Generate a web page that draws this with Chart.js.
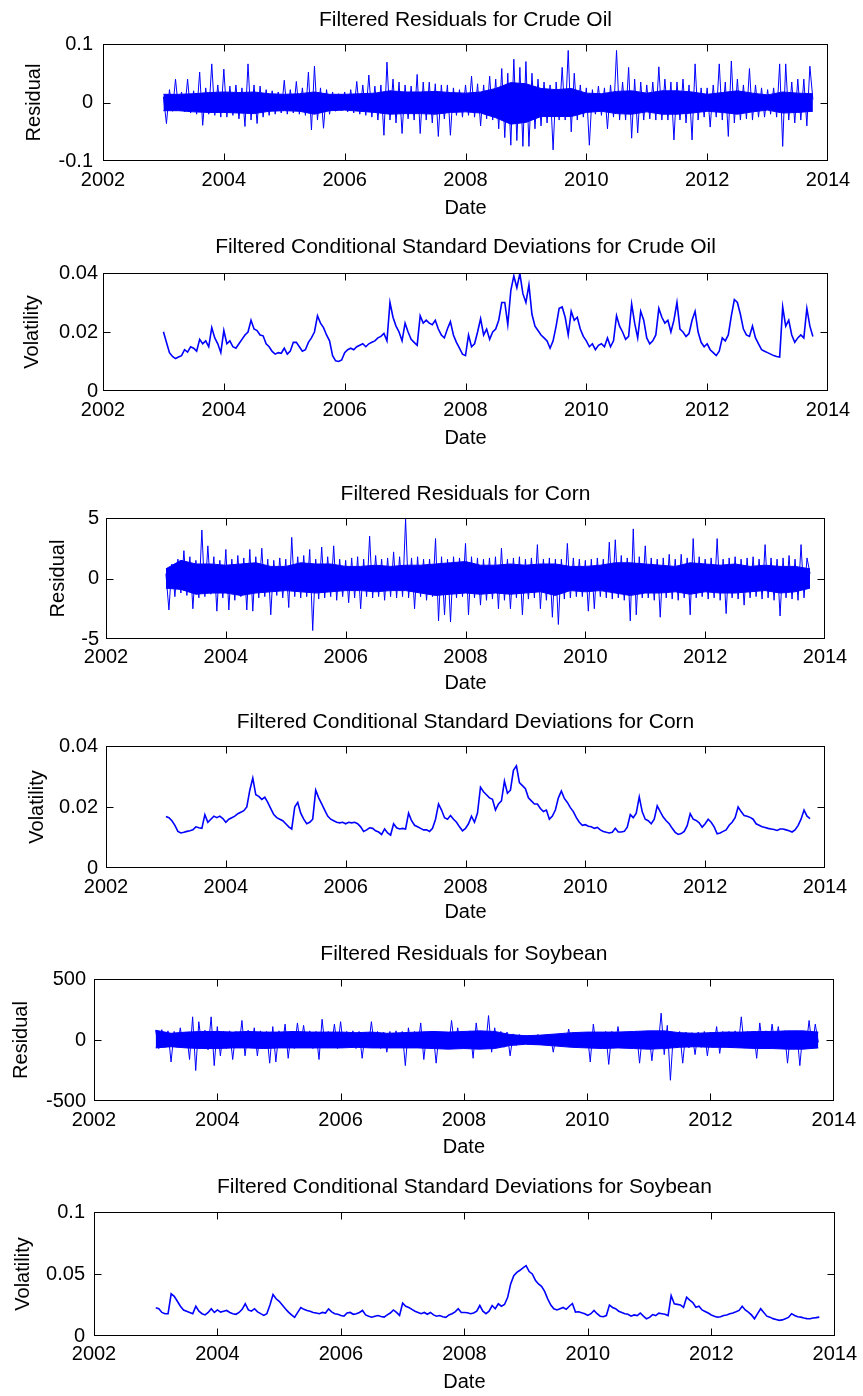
<!DOCTYPE html>
<html>
<head>
<meta charset="utf-8">
<script src="https://cdn.jsdelivr.net/npm/chart.js@4.4.1/dist/chart.umd.min.js"></script>
<style>
  html, body { margin: 0; padding: 0; background: #ffffff; }
  body { width: 863px; height: 1396px; position: relative; overflow: hidden; }
  canvas { position: absolute; left: 0; }
</style>
</head>
<body>
<canvas id="c1"></canvas>
<canvas id="c2"></canvas>
<canvas id="c3"></canvas>
<canvas id="c4"></canvas>
<canvas id="c5"></canvas>
<canvas id="c6"></canvas>
<script>
// ---------------- DATA ----------------
const titles = [
  "Filtered Residuals for Crude Oil",
  "Filtered Conditional Standard Deviations for Crude Oil",
  "Filtered Residuals for Corn",
  "Filtered Conditional Standard Deviations for Corn",
  "Filtered Residuals for Soybean",
  "Filtered Conditional Standard Deviations for Soybean"
];
const yLabels = ["Residual", "Volatility", "Residual", "Volatility", "Residual", "Volatility"];
const xLabel = "Date";
const xTicks = [2002, 2004, 2006, 2008, 2010, 2012, 2014];
const xTickLabels = ["2002", "2004", "2006", "2008", "2010", "2012", "2014"];
const yTicks1 = [-0.1, 0, 0.1];     const yTickLabels1 = ["-0.1", "0", "0.1"];
const yTicks2 = [0, 0.02, 0.04];    const yTickLabels2 = ["0", "0.02", "0.04"];
const yTicks3 = [-5, 0, 5];         const yTickLabels3 = ["-5", "0", "5"];
const yTicks4 = [0, 0.02, 0.04];    const yTickLabels4 = ["0", "0.02", "0.04"];
const yTicks5 = [-500, 0, 500];     const yTickLabels5 = ["-500", "0", "500"];
const yTicks6 = [0, 0.05, 0.1];     const yTickLabels6 = ["0", "0.05", "0.1"];

const dates = [
2003,2003.05,2003.1,2003.15,2003.2,2003.25,2003.3,2003.35,2003.4,2003.45,2003.5,2003.55,2003.6,2003.65,2003.7,2003.75,2003.8,2003.85,2003.9,2003.95,
2004,2004.05,2004.1,2004.15,2004.2,2004.25,2004.3,2004.35,2004.4,2004.45,2004.5,2004.55,2004.6,2004.65,2004.7,2004.75,2004.8,2004.85,2004.9,2004.95,
2005,2005.05,2005.1,2005.15,2005.2,2005.25,2005.3,2005.35,2005.4,2005.45,2005.5,2005.55,2005.6,2005.65,2005.7,2005.75,2005.8,2005.85,2005.9,2005.95,
2006,2006.05,2006.1,2006.15,2006.2,2006.25,2006.3,2006.35,2006.4,2006.45,2006.5,2006.55,2006.6,2006.65,2006.7,2006.75,2006.8,2006.85,2006.9,2006.95,
2007,2007.05,2007.1,2007.15,2007.2,2007.25,2007.3,2007.35,2007.4,2007.45,2007.5,2007.55,2007.6,2007.65,2007.7,2007.75,2007.8,2007.85,2007.9,2007.95,
2008,2008.05,2008.1,2008.15,2008.2,2008.25,2008.3,2008.35,2008.4,2008.45,2008.5,2008.55,2008.6,2008.65,2008.7,2008.75,2008.8,2008.85,2008.9,2008.95,
2009,2009.05,2009.1,2009.15,2009.2,2009.25,2009.3,2009.35,2009.4,2009.45,2009.5,2009.55,2009.6,2009.65,2009.7,2009.75,2009.8,2009.85,2009.9,2009.95,
2010,2010.05,2010.1,2010.15,2010.2,2010.25,2010.3,2010.35,2010.4,2010.45,2010.5,2010.55,2010.6,2010.65,2010.7,2010.75,2010.8,2010.85,2010.9,2010.95,
2011,2011.05,2011.1,2011.15,2011.2,2011.25,2011.3,2011.35,2011.4,2011.45,2011.5,2011.55,2011.6,2011.65,2011.7,2011.75,2011.8,2011.85,2011.9,2011.95,
2012,2012.05,2012.1,2012.15,2012.2,2012.25,2012.3,2012.35,2012.4,2012.45,2012.5,2012.55,2012.6,2012.65,2012.7,2012.75,2012.8,2012.85,2012.9,2012.95,
2013,2013.05,2013.1,2013.15,2013.2,2013.25,2013.3,2013.35,2013.4,2013.45,2013.5,2013.55,2013.6,2013.65,2013.7,2013.75
];

// quarterly dates for the dense core band of the residual series
const coreDates = [
2003,2003.25,2003.5,2003.75, 2004,2004.25,2004.5,2004.75, 2005,2005.25,2005.5,2005.75,
2006,2006.25,2006.5,2006.75, 2007,2007.25,2007.5,2007.75, 2008,2008.25,2008.5,2008.75,
2009,2009.25,2009.5,2009.75, 2010,2010.25,2010.5,2010.75, 2011,2011.25,2011.5,2011.75,
2012,2012.25,2012.5,2012.75, 2013,2013.25,2013.5,2013.75
];

const crudeResidual = [
0.010,-0.036,0.022,-0.015,0.040,-0.012,0.018,-0.016,0.040,-0.018,0.020,-0.020,0.052,-0.039,0.025,-0.020,0.066,-0.022,0.030,-0.025,
0.057,-0.025,0.028,-0.022,0.030,-0.028,0.025,-0.041,0.066,-0.030,0.030,-0.036,0.028,-0.025,0.022,-0.022,0.020,-0.020,0.018,-0.018,
0.038,-0.020,0.022,-0.018,0.036,-0.020,0.025,-0.022,0.052,-0.047,0.062,-0.030,0.025,-0.044,0.022,-0.020,0.018,-0.015,0.015,-0.014,
0.018,-0.016,0.022,-0.018,0.036,-0.020,0.030,-0.022,0.047,-0.025,0.028,-0.030,0.030,-0.056,0.069,-0.030,0.040,-0.035,0.035,-0.053,
0.030,-0.028,0.028,-0.030,0.048,-0.053,0.035,-0.030,0.035,-0.035,0.032,-0.058,0.030,-0.028,0.030,-0.056,0.025,-0.022,0.022,-0.025,
0.030,-0.022,0.045,-0.025,0.032,-0.040,0.030,-0.028,0.045,-0.030,0.040,-0.045,0.058,-0.060,0.050,-0.073,0.074,-0.065,0.060,-0.075,
0.070,-0.075,0.050,-0.045,0.040,-0.040,0.035,-0.035,0.030,-0.081,0.035,-0.030,0.060,-0.030,0.089,-0.050,0.050,-0.030,0.030,-0.025,
0.025,-0.073,0.022,-0.020,0.028,-0.022,0.025,-0.045,0.030,-0.025,0.089,-0.030,0.035,-0.030,0.060,-0.061,0.040,-0.052,0.035,-0.030,
0.030,-0.028,0.035,-0.030,0.061,-0.030,0.040,-0.030,0.035,-0.064,0.035,-0.030,0.040,-0.035,0.030,-0.064,0.066,-0.030,0.025,-0.025,
0.025,-0.042,0.030,-0.025,0.066,-0.030,0.035,-0.058,0.071,-0.035,0.040,-0.030,0.030,-0.028,0.058,-0.030,0.030,-0.025,0.025,-0.025,
0.022,-0.020,0.025,-0.025,0.066,-0.075,0.066,-0.030,0.035,-0.035,0.040,-0.030,0.040,-0.040,0.062,0.005
];
const crudeCoreUpper = [
.014,.014,.015,.017, .018,.017,.018,.015, .014,.015,.018,.014, .014,.015,.016,.020, .018,.018,.019,.017, .016,.018,.024,.034,
.032,.024,.022,.024, .016,.015,.019,.020, .016,.020,.020,.018, .014,.017,.020,.016, .013,.018,.016,.015
];
const crudeCoreLower = [
-.014,-.014,-.016,-.017, -.017,-.018,-.019,-.015, -.014,-.015,-.020,-.014, -.013,-.015,-.017,-.020, -.019,-.019,-.020,-.017, -.016,-.018,-.026,-.037,
-.034,-.024,-.024,-.024, -.017,-.015,-.019,-.020, -.016,-.020,-.020,-.018, -.015,-.017,-.020,-.016, -.013,-.018,-.017,-.015
];

const crudeVolatility = [
.0201,.0165,.0130,.0117,.0110,.0115,.0120,.0140,.0132,.0150,.0145,.0135,.0175,.0160,.0170,.0150,.0215,.0180,.0160,.0130,
.0205,.0160,.0170,.0150,.0145,.0160,.0175,.0190,.0200,.0240,.0210,.0205,.0190,.0187,.0160,.0150,.0134,.0125,.0130,.0128,
.0145,.0125,.0135,.0165,.0165,.0150,.0135,.0140,.0165,.0180,.0200,.0255,.0230,.0215,.0190,.0170,.0120,.0102,.0100,.0105,
.0130,.0140,.0145,.0140,.0150,.0155,.0160,.0150,.0160,.0165,.0170,.0180,.0185,.0195,.0170,.0300,.0250,.0220,.0200,.0170,
.0230,.0200,.0175,.0165,.0155,.0255,.0230,.0240,.0230,.0225,.0240,.0210,.0190,.0180,.0210,.0235,.0190,.0165,.0145,.0125,
.0120,.0190,.0150,.0160,.0200,.0245,.0190,.0210,.0175,.0200,.0210,.0240,.0300,.0300,.0225,.0340,.0390,.0350,.0398,.0330,
.0300,.0360,.0260,.0220,.0205,.0190,.0180,.0170,.0145,.0170,.0220,.0280,.0285,.0250,.0190,.0270,.0240,.0250,.0210,.0185,
.0170,.0150,.0160,.0140,.0155,.0160,.0150,.0180,.0150,.0170,.0255,.0220,.0200,.0175,.0185,.0295,.0230,.0180,.0270,.0240,
.0180,.0160,.0170,.0190,.0280,.0250,.0230,.0240,.0200,.0240,.0300,.0210,.0200,.0185,.0195,.0240,.0270,.0200,.0165,.0150,
.0160,.0140,.0130,.0120,.0135,.0180,.0170,.0190,.0255,.0310,.0300,.0260,.0210,.0190,.0185,.0220,.0180,.0160,.0140,.0135,
.0130,.0125,.0120,.0117,.0115,.0285,.0220,.0240,.0190,.0165,.0180,.0190,.0180,.0280,.0220,.0185
];

const cornResidual = [
0.4,-2.6,1.2,-1.5,1.6,-1.2,2.3,-1.4,1.8,-2.5,1.5,-1.6,4.0,-1.5,2.7,-1.3,1.8,-2.7,1.5,-1.6,
2.4,-2.6,1.6,-1.8,1.9,-1.5,1.7,-2.6,2.4,-2.7,1.8,-1.6,2.5,-1.5,1.6,-3.0,1.5,-1.4,1.7,-1.6,
1.6,-2.4,3.4,-1.5,1.8,-1.6,1.9,-1.5,2.4,-4.3,1.6,-1.7,2.6,-1.6,1.8,-1.5,2.7,-1.8,1.6,-1.5,
1.5,-2.0,1.7,-1.6,1.8,-2.5,1.6,-1.5,3.5,-1.6,1.9,-1.5,1.6,-1.8,1.7,-1.5,2.2,-1.6,1.8,-1.5,
4.9,-1.6,1.7,-2.5,1.8,-1.5,1.6,-1.8,1.6,-1.5,3.3,-3.5,1.8,-3.0,1.6,-3.6,1.8,-1.6,1.7,-1.5,
2.9,-3.0,1.8,-1.6,1.7,-2.2,1.6,-1.8,1.7,-1.7,1.8,-2.5,2.5,-1.8,1.6,-2.5,1.7,-1.6,1.8,-3.0,
1.6,-1.7,1.7,-1.6,2.8,-2.5,1.6,-1.8,1.7,-3.2,1.6,-3.8,1.6,-1.7,2.9,-1.6,1.7,-1.5,1.6,-1.5,
1.5,-2.7,1.6,-2.5,1.7,-1.5,1.6,-1.6,3.0,-1.7,3.2,-1.6,1.9,-1.8,1.7,-3.5,4.1,-3.0,1.8,-1.6,
2.7,-1.6,1.7,-1.8,1.6,-3.2,1.7,-1.6,2.0,-1.7,1.6,-1.8,2.0,-1.6,1.7,-3.0,3.3,-1.6,1.8,-1.5,
1.6,-1.7,1.7,-1.6,3.3,-1.8,1.6,-2.9,1.7,-1.6,1.8,-1.7,1.6,-2.2,1.7,-1.6,1.8,-1.5,1.6,-1.7,
2.8,-1.6,1.7,-1.8,1.6,-3.1,1.7,-1.6,1.9,-1.7,1.6,-1.8,2.8,-1.6,1.7,0.4
];
const cornCoreUpper = [
0.8,1.5,1.2,1.2, 1.1,1.2,1.3,1.0, 1.0,1.3,1.2,1.2, 1.0,1.0,1.1,1.0, 1.1,1.1,1.2,1.3, 1.4,1.1,1.1,1.2,
1.1,1.2,1.2,1.0, 1.0,1.1,1.3,1.3, 1.2,1.1,1.0,1.3, 1.2,1.1,1.2,1.0, 1.1,1.0,1.0,0.8
];
const cornCoreLower = [
-0.8,-0.9,-1.3,-1.2, -1.2,-1.4,-1.2,-1.1, -1.0,-1.1,-1.2,-1.1, -1.0,-1.0,-1.1,-1.0, -1.0,-1.2,-1.4,-1.3, -1.2,-1.3,-1.2,-1.3,
-1.2,-1.1,-1.4,-1.0, -1.1,-1.0,-1.2,-1.4, -1.2,-1.2,-1.1,-1.3, -1.1,-1.2,-1.2,-1.1, -1.0,-1.2,-1.1,-0.8
];

const cornVolatility = [
.0169,.0165,.0155,.0140,.0120,.0115,.0117,.0120,.0122,.0125,.0135,.0132,.0130,.0175,.0150,.0160,.0170,.0165,.0170,.0162,
.0150,.0160,.0165,.0170,.0178,.0183,.0188,.0200,.0255,.0295,.0240,.0235,.0225,.0232,.0215,.0195,.0175,.0165,.0160,.0155,
.0145,.0135,.0128,.0200,.0215,.0180,.0160,.0145,.0150,.0160,.0255,.0230,.0210,.0190,.0170,.0160,.0155,.0150,.0148,.0150,
.0145,.0150,.0148,.0150,.0145,.0135,.0120,.0125,.0132,.0130,.0122,.0118,.0110,.0128,.0115,.0108,.0145,.0132,.0128,.0130,
.0128,.0180,.0155,.0140,.0135,.0130,.0125,.0125,.0120,.0130,.0160,.0210,.0190,.0165,.0160,.0172,.0160,.0150,.0135,.0122,
.0130,.0145,.0170,.0150,.0180,.0265,.0250,.0240,.0230,.0225,.0190,.0210,.0220,.0285,.0245,.0255,.0320,.0335,.0280,.0270,
.0260,.0230,.0220,.0210,.0210,.0195,.0185,.0190,.0160,.0170,.0190,.0230,.0252,.0228,.0215,.0198,.0185,.0165,.0150,.0140,
.0142,.0137,.0135,.0130,.0133,.0125,.0120,.0117,.0115,.0117,.0130,.0118,.0118,.0120,.0134,.0175,.0165,.0180,.0233,.0184,
.0160,.0155,.0145,.0160,.0204,.0185,.0167,.0155,.0145,.0130,.0117,.0110,.0113,.0120,.0139,.0178,.0160,.0156,.0148,.0134,
.0145,.0160,.0150,.0135,.0112,.0115,.0120,.0125,.0140,.0150,.0165,.0200,.0185,.0172,.0170,.0166,.0160,.0145,.0140,.0135,
.0133,.0130,.0128,.0126,.0123,.0128,.0128,.0125,.0122,.0118,.0125,.0139,.0160,.0190,.0170,.0162
];

const soybeanResidual = [
80,-70,85,-60,75,-180,70,-60,100,-55,60,-160,190,-250,150,-60,80,-80,190,-210,
110,-130,70,-70,75,-160,70,-60,160,-130,80,-65,100,-130,75,-70,70,-190,110,-180,
75,-65,130,-150,70,-70,140,-60,120,-65,75,-70,70,-160,170,-65,70,-60,130,-70,
150,-65,70,-60,75,-70,70,-150,65,-60,150,-65,70,-70,65,-100,70,-65,75,-60,
70,-210,100,-60,70,-65,140,-160,65,-60,70,-190,65,-60,65,-65,160,-60,100,-65,
70,-65,75,-150,140,-60,70,-65,200,-100,100,-65,70,-60,65,-130,50,-45,45,-40,
40,-35,35,-40,45,-35,40,-35,45,-100,45,-40,50,-45,90,-50,55,-50,60,-55,
60,-180,130,-60,65,-55,70,-200,70,-60,110,-55,65,-60,60,-65,70,-190,60,-55,
70,-170,65,-60,220,-120,120,-330,65,-65,70,-190,65,-65,60,-120,65,-60,70,-130,
65,-60,110,-110,70,-60,70,-65,75,-60,190,-65,70,-60,70,-150,140,-60,75,-65,
130,-65,110,-60,75,-190,70,-65,75,-210,70,-60,160,-65,130,-20
];
const soybeanCoreUpper = [
80,55,65,70, 70,65,70,65, 65,70,65,65, 65,60,65,55, 60,65,70,65, 70,75,70,45,
35,40,50,60, 65,65,65,70, 75,75,60,55, 60,65,65,70, 70,75,75,65
];
const soybeanCoreLower = [
-65,-55,-65,-70, -70,-65,-65,-70, -65,-65,-65,-65, -65,-60,-65,-65, -65,-65,-70,-75, -70,-75,-70,-45,
-35,-40,-50,-60, -65,-70,-65,-70, -75,-70,-60,-55, -60,-60,-65,-70, -70,-75,-75,-65
];

const soybeanVolatility = [
.0227,.0220,.0190,.0180,.0180,.0340,.0320,.0280,.0240,.0210,.0200,.0190,.0180,.0240,.0200,.0180,.0170,.0190,.0220,.0190,
.0210,.0193,.0200,.0206,.0190,.0180,.0175,.0190,.0215,.0260,.0210,.0200,.0220,.0195,.0180,.0166,.0180,.0250,.0334,.0300,
.0280,.0250,.0220,.0193,.0170,.0150,.0190,.0230,.0215,.0205,.0200,.0190,.0185,.0180,.0190,.0185,.0219,.0195,.0180,.0175,
.0165,.0160,.0185,.0190,.0175,.0180,.0190,.0206,.0170,.0160,.0152,.0160,.0165,.0158,.0152,.0170,.0185,.0210,.0190,.0166,
.0265,.0240,.0230,.0215,.0200,.0190,.0180,.0190,.0175,.0190,.0170,.0160,.0165,.0155,.0150,.0170,.0180,.0195,.0220,.0190,
.0190,.0187,.0180,.0185,.0200,.0246,.0200,.0180,.0200,.0246,.0220,.0260,.0240,.0254,.0310,.0420,.0487,.0513,.0530,.0550,
.0567,.0520,.0500,.0450,.0420,.0400,.0360,.0300,.0250,.0220,.0210,.0220,.0230,.0215,.0240,.0262,.0193,.0195,.0187,.0180,
.0166,.0180,.0206,.0180,.0160,.0155,.0165,.0250,.0230,.0220,.0200,.0190,.0180,.0175,.0160,.0170,.0165,.0185,.0160,.0139,
.0150,.0173,.0165,.0184,.0180,.0175,.0165,.0326,.0260,.0255,.0250,.0230,.0313,.0290,.0270,.0232,.0240,.0210,.0198,.0185,
.0170,.0160,.0152,.0155,.0166,.0170,.0180,.0185,.0195,.0206,.0240,.0210,.0193,.0170,.0139,.0180,.0220,.0190,.0160,.0152,
.0140,.0133,.0126,.0130,.0140,.0150,.0180,.0165,.0155,.0152,.0145,.0140,.0139,.0145,.0148,.0152
];

// ---------------- PANELS (data binding) ----------------
const panels = [
  { id: "c1", series: crudeResidual,     core: [crudeCoreUpper, crudeCoreLower],     yMin: -0.1, yMax: 0.1,  yTicks: yTicks1, yTickLabels: yTickLabels1, lw: 1 },
  { id: "c2", series: crudeVolatility,   core: null,                                  yMin: 0,    yMax: 0.04, yTicks: yTicks2, yTickLabels: yTickLabels2, lw: 1.6 },
  { id: "c3", series: cornResidual,      core: [cornCoreUpper, cornCoreLower],       yMin: -5,   yMax: 5,    yTicks: yTicks3, yTickLabels: yTickLabels3, lw: 1 },
  { id: "c4", series: cornVolatility,    core: null,                                  yMin: 0,    yMax: 0.04, yTicks: yTicks4, yTickLabels: yTickLabels4, lw: 1.6 },
  { id: "c5", series: soybeanResidual,   core: [soybeanCoreUpper, soybeanCoreLower], yMin: -500, yMax: 500,  yTicks: yTicks5, yTickLabels: yTickLabels5, lw: 1 },
  { id: "c6", series: soybeanVolatility, core: null,                                  yMin: 0,    yMax: 0.1,  yTicks: yTicks6, yTickLabels: yTickLabels6, lw: 1.6 }
];

// ---------------- LAYOUT (positions in page px) ----------------
const PAGE_W = 863;
const boxes = [
  { left: 103, top: 44,   right: 828, bottom: 161,  titleY: 20,   dateY: 208,  ylabX: 34, yGap: 10, xPad: 7 },
  { left: 103, top: 273,  right: 828, bottom: 391,  titleY: 247,  dateY: 438,  ylabX: 32, yGap: 5,  xPad: 7 },
  { left: 106, top: 518,  right: 825, bottom: 639,  titleY: 494,  dateY: 683,  ylabX: 58, yGap: 7,  xPad: 6 },
  { left: 106, top: 746,  right: 825, bottom: 868,  titleY: 722,  dateY: 912,  ylabX: 37, yGap: 8,  xPad: 7 },
  { left: 94,  top: 979,  right: 839, bottom: 1101, titleY: 954,  dateY: 1147, ylabX: 21, yGap: 8,  xPad: 7 },
  { left: 94,  top: 1212, right: 839, bottom: 1336, titleY: 1187, dateY: 1382, ylabX: 23, yGap: 9,  xPad: 6 }
];

const FONT = "'Liberation Sans', Arial, Helvetica, sans-serif";
const TEXT = "#000000";
const BLUE = "#0000ff";
const TITLE_SIZE = 21, LABEL_SIZE = 20, TICK_SIZE = 20;

const framePlugin = {
  id: "matlabFrame",
  afterDraw(chart) {
    const { ctx, chartArea: a, scales } = chart;
    const L = Math.round(a.left) + 0.5, R = Math.round(a.right) - 0.5;
    const T = Math.round(a.top) + 0.5, B = Math.round(a.bottom) - 0.5;
    ctx.save();
    ctx.strokeStyle = "#000000";
    ctx.lineWidth = 1;
    ctx.strokeRect(L, T, R - L, B - T);
    const len = 7;
    ctx.beginPath();
    scales.x.ticks.forEach(t => {
      const px = Math.round(scales.x.getPixelForValue(t.value)) + 0.5;
      if (px <= L + 1 || px >= R - 1) return;
      ctx.moveTo(px, B); ctx.lineTo(px, B - len);
      ctx.moveTo(px, T); ctx.lineTo(px, T + len);
    });
    scales.y.ticks.forEach(t => {
      const py = Math.round(scales.y.getPixelForValue(t.value)) + 0.5;
      if (py <= T + 1 || py >= B - 1) return;
      ctx.moveTo(L, py); ctx.lineTo(L + len, py);
      ctx.moveTo(R, py); ctx.lineTo(R - len, py);
    });
    ctx.stroke();
    ctx.restore();
  }
};

panels.forEach((p, i) => {
  const b = boxes[i];
  const canvasTop = b.titleY - 20;
  const canvasH = b.dateY + 14 - canvasTop;
  const cv = document.getElementById(p.id);
  cv.width = PAGE_W; cv.height = canvasH;
  cv.style.top = canvasTop + "px";
  cv.style.width = PAGE_W + "px"; cv.style.height = canvasH + "px";

  const titleLH = TITLE_SIZE * 1.2;
  const tPadTop = b.titleY - canvasTop - titleLH / 2;
  const tPadBottom = b.top - canvasTop - tPadTop - titleLH;
  const xScaleH = canvasTop + canvasH - b.bottom;
  const dateLH = LABEL_SIZE * 1.2;
  const datePadBottom = (canvasTop + canvasH) - b.dateY - dateLH / 2;
  const ylabPadTop = b.ylabX - dateLH / 2;

  const datasets = [{
    data: dates.map((d, k) => ({ x: d, y: p.series[k] })),
    borderColor: BLUE,
    borderWidth: p.lw,
    pointRadius: 0,
    tension: 0,
    fill: false
  }];
  if (p.core) {
    datasets.push({
      data: coreDates.map((d, k) => ({ x: d, y: p.core[0][k] })),
      borderColor: BLUE, borderWidth: 1, pointRadius: 0, tension: 0, fill: false
    });
    datasets.push({
      data: coreDates.map((d, k) => ({ x: d, y: p.core[1][k] })),
      borderColor: BLUE, borderWidth: 1, pointRadius: 0, tension: 0,
      fill: "-1", backgroundColor: BLUE
    });
  }

  new Chart(cv, {
    type: "line",
    data: { datasets },
    options: {
      responsive: false,
      animation: false,
      devicePixelRatio: 1,
      events: [],
      layout: { padding: { left: 0, top: 0, bottom: 0, right: PAGE_W - b.right } },
      plugins: {
        legend: { display: false },
        tooltip: { enabled: false },
        title: {
          display: true,
          text: titles[i],
          fullSize: false,
          color: TEXT,
          font: { family: FONT, size: TITLE_SIZE, weight: "normal", lineHeight: 1.2 },
          padding: { top: tPadTop, bottom: tPadBottom }
        }
      },
      scales: {
        x: {
          type: "linear",
          min: xTicks[0],
          max: xTicks[xTicks.length - 1],
          grid: { display: false, drawTicks: false },
          border: { display: false },
          afterBuildTicks: s => { s.ticks = xTicks.map(v => ({ value: v })); },
          afterFit: s => { s.height = xScaleH; },
          ticks: {
            autoSkip: false, maxRotation: 0, minRotation: 0,
            padding: b.xPad, color: TEXT,
            font: { family: FONT, size: TICK_SIZE, lineHeight: 1.2 },
            callback: v => xTickLabels[xTicks.indexOf(v)]
          },
          title: {
            display: true, text: xLabel, color: TEXT,
            font: { family: FONT, size: LABEL_SIZE, lineHeight: 1.2 },
            padding: { top: 0, bottom: datePadBottom }
          }
        },
        y: {
          type: "linear",
          min: p.yMin,
          max: p.yMax,
          grid: { display: false, drawTicks: false },
          border: { display: false },
          afterBuildTicks: s => { s.ticks = p.yTicks.map(v => ({ value: v })); },
          afterFit: s => { s.width = b.left; },
          ticks: {
            autoSkip: false, padding: b.yGap, color: TEXT,
            font: { family: FONT, size: TICK_SIZE, lineHeight: 1.2 },
            callback: v => p.yTickLabels[p.yTicks.indexOf(v)]
          },
          title: {
            display: true, text: yLabels[i], color: TEXT,
            font: { family: FONT, size: LABEL_SIZE, lineHeight: 1.2 },
            padding: { top: ylabPadTop, bottom: 0 }
          }
        }
      }
    },
    plugins: [framePlugin]
  });
});
</script>
</body>
</html>
